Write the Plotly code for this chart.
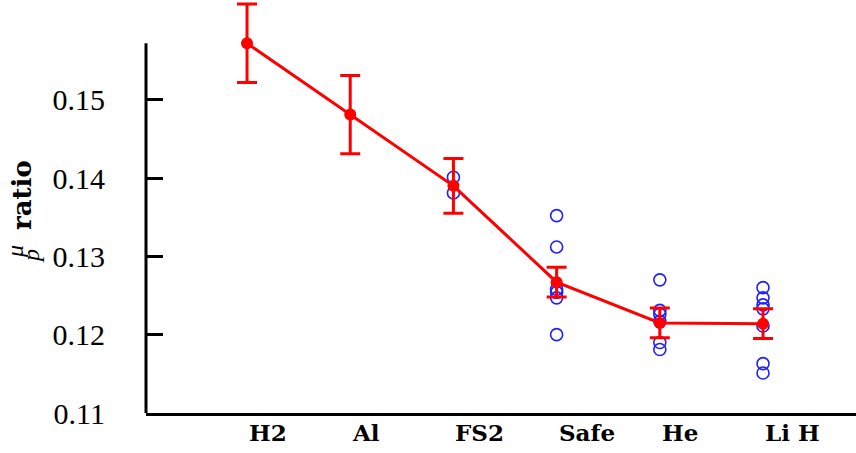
import plotly.graph_objects as go

categories = ["H2", "Al", "FS2", "Safe", "He", "Li H"]
mean_ratio = [0.1572, 0.1481, 0.1390, 0.1267, 0.1215, 0.1214]
err_ratio = [0.0050, 0.0050, 0.0035, 0.0019, 0.0019, 0.0019]

sample_cat = (["FS2"] * 2 + ["Safe"] * 6 + ["He"] * 6 + ["Li H"] * 7)
sample_ratio = [0.1401, 0.1381,
                0.1352, 0.1312, 0.1258, 0.1254, 0.1247, 0.1200,
                0.1270, 0.1231, 0.1226, 0.1217, 0.1190, 0.1181,
                0.1260, 0.1247, 0.1238, 0.1233, 0.1211, 0.1163, 0.1151]

y_ticks = [0.11, 0.12, 0.13, 0.14, 0.15]

fig = go.Figure()
fig.add_trace(go.Scatter(
    x=sample_cat, y=sample_ratio, mode="markers",
    marker=dict(symbol="circle-open", size=12, color="#1f1fff",
                line=dict(width=1.6, color="#1f1fff")),
    showlegend=False, hoverinfo="skip"))
fig.add_trace(go.Scatter(
    x=categories, y=mean_ratio, mode="lines+markers",
    line=dict(color="#ff0000", width=3),
    marker=dict(size=12, color="#ff0000"),
    error_y=dict(type="data", array=err_ratio, color="#ff0000",
                 thickness=3, width=10),
    showlegend=False))

# y-axis spine spanning data range
fig.add_shape(type="line", xref="paper", yref="y", x0=0, x1=0,
              y0=y_ticks[0], y1=max(mean_ratio),
              line=dict(color="black", width=3))

# left-aligned category labels
for c in categories:
    fig.add_annotation(x=c, xref="x", y=-19 / 413, yref="paper",
                       text="<b>%s</b>" % c, showarrow=False,
                       xanchor="left", yanchor="middle",
                       font=dict(family="DejaVu Serif", size=23, color="black"))

# y-axis title: mu over p, then "ratio"
fig.add_annotation(xref="paper", yref="paper", x=-(146 - 22) / 710,
                   y=(413 - 195) / 413, text="<b>ratio</b>", textangle=-90,
                   showarrow=False, xanchor="center", yanchor="middle",
                   font=dict(family="DejaVu Serif", size=26, color="black"))
fig.add_annotation(xref="paper", yref="paper", x=-(146 - 15) / 710,
                   y=(413 - 252) / 413, text="<i>μ</i>", textangle=-90,
                   showarrow=False, xanchor="center", yanchor="middle",
                   font=dict(family="Liberation Serif", size=24, color="black"))
fig.add_annotation(xref="paper", yref="paper", x=-(146 - 31) / 710,
                   y=(413 - 256) / 413, text="<i>p</i>", textangle=-90,
                   showarrow=False, xanchor="center", yanchor="middle",
                   font=dict(family="Liberation Serif", size=24, color="black"))

fig.update_layout(
    width=856, height=453,
    margin=dict(l=146, r=0, t=0, b=40),
    paper_bgcolor="white", plot_bgcolor="white",
    xaxis=dict(type="category", categoryorder="array", categoryarray=categories,
               range=[-0.979, 5.901], showgrid=False,
               showline=True, linecolor="black", linewidth=3,
               showticklabels=False, ticks="", zeroline=False),
    yaxis=dict(range=[0.11, 0.11 + 413 / 7833], showgrid=False,
               showline=False, zeroline=False,
               tickvals=y_ticks, ticktext=["%.2f" % v for v in y_ticks],
               ticks="inside", ticklen=17, tickwidth=3, tickcolor="black",
               ticklabelstandoff=40,
               tickfont=dict(family="Liberation Serif", size=30, color="black")),
)

fig.write_html("out.html", config={"displayModeBar": False},
               post_script="document.body.style.margin='0';")
